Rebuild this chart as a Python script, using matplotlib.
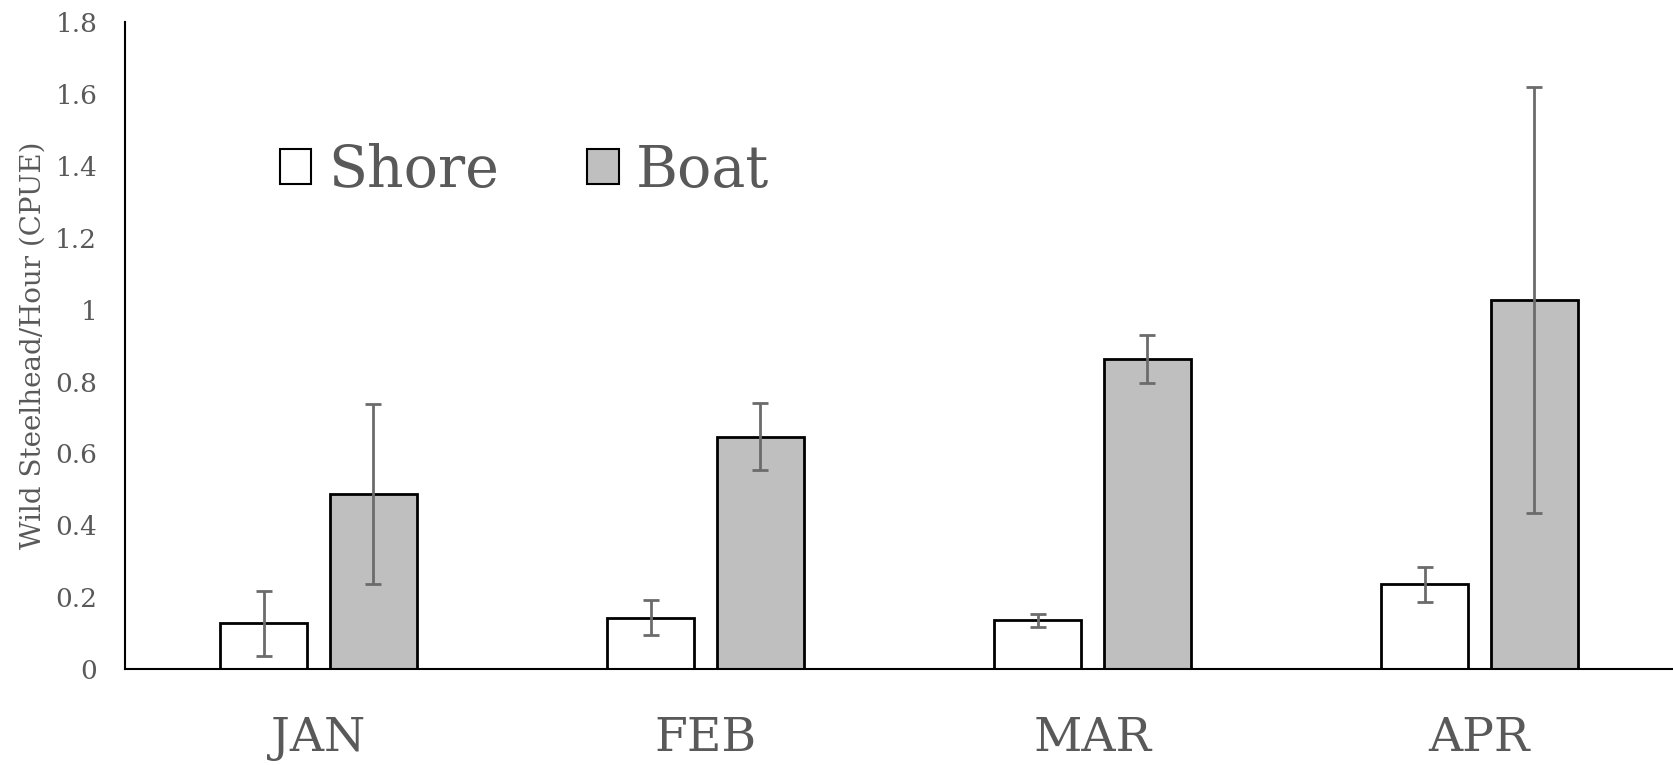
import numpy as np
import matplotlib
matplotlib.use("Agg")
import matplotlib.pyplot as plt

# data
months = ["JAN", "FEB", "MAR", "APR"]
shore = [0.127, 0.143, 0.136, 0.236]
shore_err = [0.091, 0.049, 0.018, 0.049]
boat = [0.487, 0.647, 0.863, 1.027]
boat_err = [0.250, 0.094, 0.066, 0.592]

text_grey = "#595959"
err_grey = "#6b6b6b"

plt.rcParams['font.family'] = ['DejaVu Serif']

fig = plt.figure(figsize=(16.73, 7.65), dpi=100)
ax = fig.add_axes([0.0747, 0.1255, 0.9253, 0.8455])

x = np.arange(len(months))
w = 0.225
off = 0.142

ax.bar(x - off, shore, w, color="white", edgecolor="black", linewidth=2,
       label="Shore", zorder=2)
ax.bar(x + off, boat, w, color="#bfbfbf", edgecolor="black", linewidth=2,
       label="Boat", zorder=2)
ax.errorbar(x - off, shore, yerr=shore_err, fmt="none", ecolor=err_grey,
            elinewidth=2, capsize=6, capthick=2, zorder=3)
ax.errorbar(x + off, boat, yerr=boat_err, fmt="none", ecolor=err_grey,
            elinewidth=2, capsize=6, capthick=2, zorder=3)

ax.set_xlim(-0.5, 3.5)
ax.set_ylim(0, 1.8)
ax.set_yticks(np.arange(0, 1.81, 0.2))
ax.set_yticklabels(["0", "0.2", "0.4", "0.6", "0.8", "1", "1.2", "1.4", "1.6", "1.8"])
ax.set_xticks(x)
ax.set_xticklabels(months)

for s in ["top", "right"]:
    ax.spines[s].set_visible(False)
ax.spines["left"].set_linewidth(1.5)
ax.spines["bottom"].set_linewidth(1.5)

ax.tick_params(axis="y", length=0, pad=20, labelsize=19, labelcolor=text_grey)
ax.tick_params(axis="x", length=0, pad=34, labelsize=34, labelcolor=text_grey)

ax.set_ylabel("Wild Steelhead/Hour (CPUE)", fontsize=20, color=text_grey, labelpad=6)

leg = ax.legend(loc="upper left", bbox_to_anchor=(0.067, 0.893), ncol=2,
                frameon=False, fontsize=41, handlelength=0.55, handleheight=0.55,
                handletextpad=0.3, columnspacing=1.55, labelcolor=text_grey)
for p in leg.get_patches():
    p.set_linewidth(1.5)

plt.savefig("out.png", dpi=100)
